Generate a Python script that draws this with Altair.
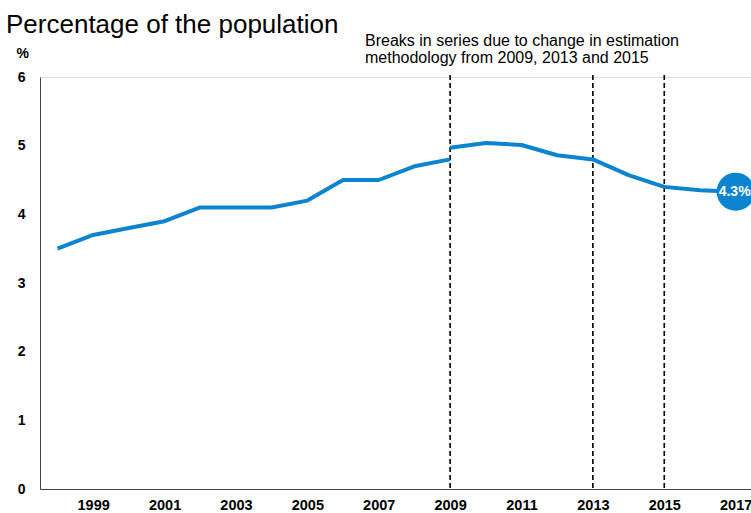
import altair as alt
import pandas as pd

# Series before the 2009 methodology break
years_a = [1998, 1999, 2000, 2001, 2002, 2003, 2004, 2005, 2006, 2007, 2008, 2009]
values_a = [3.5, 3.7, 3.8, 3.9, 4.1, 4.1, 4.1, 4.2, 4.5, 4.5, 4.7, 4.8]
# Series from 2009 onwards
years_b = [2009, 2010, 2011, 2012, 2013, 2014, 2015, 2016, 2017]
values_b = [4.97, 5.04, 5.01, 4.86, 4.8, 4.57, 4.4, 4.35, 4.33]

break_years = [2009, 2013, 2015]
tick_years = [1999, 2001, 2003, 2005, 2007, 2009, 2011, 2013, 2015, 2017]
y_ticks = [0, 1, 2, 3, 4, 5, 6]

last_year = [2017]
last_value = [4.33]
last_label = ["4.3%"]

title_text = "Percentage of the population"
note_lines = ["Breaks in series due to change in estimation",
              "methodology from 2009, 2013 and 2015"]

BLUE = "#0b84d0"
FONT = "Liberation Sans"

line_df = pd.DataFrame({
    "year": years_a + years_b,
    "value": values_a + values_b,
    "seg": ["a"] * len(years_a) + ["b"] * len(years_b),
})
break_df = pd.DataFrame({"year": break_years})
last_df = pd.DataFrame({"year": last_year, "value": last_value, "label": last_label})
one_df = pd.DataFrame({"n": [0]})

x_scale = alt.Scale(domain=[1997.51, 2017.43], nice=False, zero=False)
y_scale = alt.Scale(domain=[0, 6], nice=False)

x_axis = alt.Axis(values=tick_years, format="d", title=None, ticks=False, grid=False,
                  labelFont=FONT, labelFontSize=14.5, labelFontWeight="bold",
                  labelColor="black", labelPadding=9, domainColor="#444",
                  labelFlush=False, labelOverlap=False)
y_axis = alt.Axis(values=y_ticks, format="d", title="%", ticks=False, grid=False,
                  labelFont=FONT, labelFontSize=14, labelFontWeight="bold",
                  labelColor="black", labelPadding=15, domainColor="#444",
                  titleAngle=0, titleX=-24, titleY=-20, titleAlign="left",
                  titleBaseline="alphabetic", titleFont=FONT, titleFontSize=14,
                  titleFontWeight="bold", titleColor="black")

rules = alt.Chart(break_df).mark_rule(
    color="black", strokeWidth=1.6, strokeDash=[5, 3]
).encode(
    x=alt.X("year:Q", scale=x_scale, axis=x_axis),
    y=alt.value(-2),
    y2=alt.value(412),
)

lines = alt.Chart(line_df).mark_line(color=BLUE, strokeWidth=4, strokeJoin="round").encode(
    x=alt.X("year:Q", scale=x_scale, axis=x_axis),
    y=alt.Y("value:Q", scale=y_scale, axis=y_axis),
    detail="seg:N",
)

dot = alt.Chart(last_df).mark_circle(color=BLUE, opacity=1, size=1450).encode(
    x=alt.X("year:Q", scale=x_scale),
    y=alt.Y("value:Q", scale=y_scale),
)
dot_label = alt.Chart(last_df).mark_text(
    color="white", font=FONT, fontSize=14, fontWeight="bold", align="center",
    baseline="middle", dx=-1
).encode(
    x=alt.X("year:Q", scale=x_scale),
    y=alt.Y("value:Q", scale=y_scale),
    text="label:N",
)

note = alt.Chart(one_df).mark_text(
    text=note_lines, align="left", baseline="alphabetic", font=FONT,
    fontSize=16, lineHeight=17.5, color="black"
).encode(x=alt.value(325), y=alt.value(-31.5))

title = alt.Chart(one_df).mark_text(
    text=title_text, align="left", baseline="alphabetic", font=FONT,
    fontSize=26, color="black"
).encode(x=alt.value(-34), y=alt.value(-44))

chart = alt.layer(rules, lines, dot, dot_label, note, title).properties(
    width=711,
    height=412,
    autosize=alt.AutoSizeParams(type="none"),
    padding={"left": 40, "top": 77, "right": 0, "bottom": 24},
).configure_view(stroke=None).configure(background="white")

chart.save("out.html", embed_options={"renderer": "svg", "actions": False})
